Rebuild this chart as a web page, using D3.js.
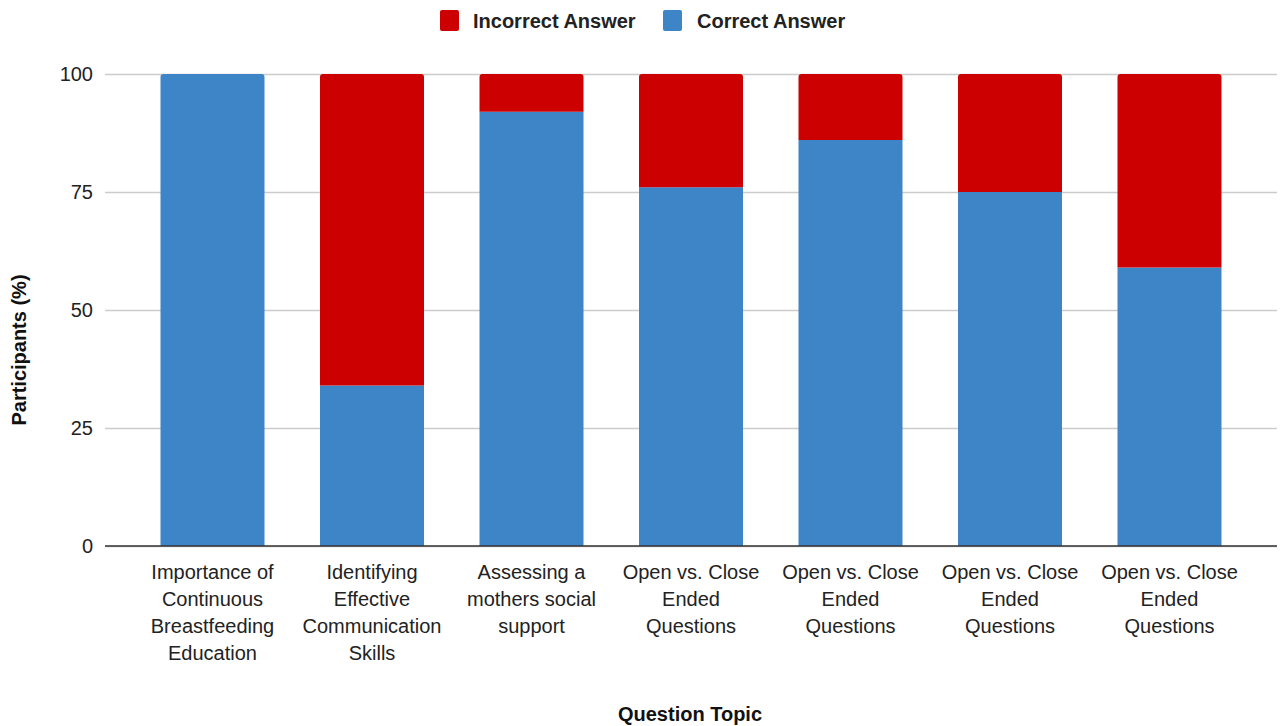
<!DOCTYPE html>
<html>
<head>
<meta charset="utf-8">
<script src="https://cdn.jsdelivr.net/npm/d3@7/dist/d3.min.js"></script>
<style>
  body { margin: 0; background: #fff; }
  svg { display: block; font-family: "Liberation Sans", Arial, sans-serif; }
</style>
</head>
<body>
<svg id="chart" width="1280" height="726"></svg>
<script>
// question topics (multi-line labels)
const topics = [
  ['Importance of', 'Continuous', 'Breastfeeding', 'Education'],
  ['Identifying', 'Effective', 'Communication', 'Skills'],
  ['Assessing a', 'mothers social', 'support'],
  ['Open vs. Close', 'Ended', 'Questions'],
  ['Open vs. Close', 'Ended', 'Questions'],
  ['Open vs. Close', 'Ended', 'Questions'],
  ['Open vs. Close', 'Ended', 'Questions']
];
const correct = [100, 34, 92, 76, 86, 75, 59];
const incorrect = [0, 66, 8, 24, 14, 25, 41];
const yTicks = [0, 25, 50, 75, 100];
const seriesNames = ['Incorrect Answer', 'Correct Answer'];
const seriesColors = ['#cc0000', '#3d85c6'];

const svg = d3.select('#chart');
const plotLeft = 105, plotRight = 1277, plotTop = 74, plotBottom = 546;

const rows = topics.map((t, i) => ({ idx: i, correct: correct[i], incorrect: incorrect[i] }));

const x = d3.scaleBand()
  .domain(d3.range(topics.length))
  .range([plotLeft, plotRight])
  .padding(0.348);

const y = d3.scaleLinear().domain([0, 100]).range([plotBottom, plotTop]);

// gridlines + y labels
const yAxis = svg.append('g')
  .attr('transform', `translate(${plotLeft},0)`)
  .call(d3.axisLeft(y).tickValues(yTicks).tickSize(-(plotRight - plotLeft)).tickPadding(12));
yAxis.select('.domain').remove();
yAxis.selectAll('.tick line').attr('stroke', '#cccccc').attr('stroke-width', 1.5);
yAxis.selectAll('.tick text')
  .attr('font-size', 20).attr('fill', '#222')
  .style('font-family', '"Liberation Sans", Arial, sans-serif');

// stacked bars
const stack = d3.stack().keys(['correct', 'incorrect']);
const layers = stack(rows);
const colorOf = { correct: seriesColors[1], incorrect: seriesColors[0] };

function barPath (x0, y0, w, y1, r) {
  // rect from y1 (top) to y0 (bottom) with rounded top corners
  const h = y0 - y1;
  r = Math.min(r, h / 2);
  return `M${x0},${y0}V${y1 + r}Q${x0},${y1} ${x0 + r},${y1}H${x0 + w - r}Q${x0 + w},${y1} ${x0 + w},${y1 + r}V${y0}Z`;
}

layers.forEach(layer => {
  svg.append('g').selectAll('path')
    .data(layer.filter(d => d[1] - d[0] > 0))
    .join('path')
    .attr('fill', colorOf[layer.key])
    .attr('d', d => {
      const isTop = d[1] >= 100;
      return barPath(x(d.data.idx), y(d[0]), x.bandwidth(), y(d[1]), isTop ? 3 : 0);
    });
});

// baseline
svg.append('line')
  .attr('x1', plotLeft).attr('x2', plotRight)
  .attr('y1', y(0)).attr('y2', y(0))
  .attr('stroke', '#333').attr('stroke-width', 1.5);

// x labels
const xl = svg.append('g');
topics.forEach((lines, i) => {
  const cx = x(i) + x.bandwidth() / 2;
  const t = xl.append('text')
    .attr('x', cx)
    .attr('y', 579)
    .attr('text-anchor', 'middle')
    .attr('font-size', 20)
    .attr('fill', '#222');
  lines.forEach((ln, j) => {
    t.append('tspan').attr('x', cx).attr('dy', j === 0 ? 0 : 27).text(ln);
  });
});

// axis titles
svg.append('text')
  .attr('x', 690).attr('y', 721)
  .attr('text-anchor', 'middle')
  .attr('font-size', 20).attr('font-weight', 'bold').attr('fill', '#111')
  .text('Question Topic');

svg.append('text')
  .attr('transform', 'translate(26,350) rotate(-90)')
  .attr('text-anchor', 'middle')
  .attr('font-size', 20).attr('font-weight', 'bold').attr('fill', '#111')
  .text('Participants (%)');

// legend
const legendPos = [[440, 473], [663, 697]];
seriesNames.forEach((name, i) => {
  svg.append('rect')
    .attr('x', legendPos[i][0]).attr('y', 10)
    .attr('width', 19).attr('height', 21).attr('rx', 2)
    .attr('fill', seriesColors[i]);
  svg.append('text')
    .attr('x', legendPos[i][1]).attr('y', 28)
    .attr('font-size', 20).attr('font-weight', 'bold').attr('fill', '#222')
    .text(name);
});
</script>
</body>
</html>
